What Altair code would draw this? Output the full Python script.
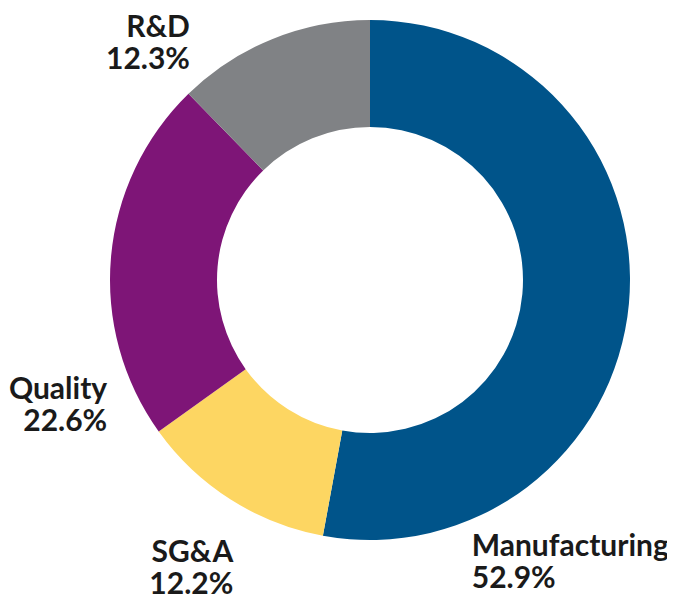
import math
import altair as alt
import pandas as pd

categories = ["Manufacturing", "SG&A", "Quality", "R&D"]
values = [52.9, 12.2, 22.6, 12.3]
colors = ["#00548A", "#FDD662", "#7E1577", "#808285"]

df = pd.DataFrame({"category": categories, "value": values, "idx": list(range(len(categories)))})

theta_scale = alt.Scale(domain=[0, 100], range=[0, 2 * math.pi])

base = (
    alt.Chart(df)
    .transform_window(cum_end="sum(value)", sort=[alt.SortField("idx")])
    .transform_calculate(
        cum_start="datum.cum_end - datum.value",
        mid="datum.cum_end - datum.value / 2",
        label="datum.category + '\\n' + format(datum.value, '.1f') + '%'",
    )
)

arcs = base.mark_arc(outerRadius=260, innerRadius=153).encode(
    theta=alt.Theta("cum_start:Q", scale=theta_scale, stack=None),
    theta2="cum_end:Q",
    color=alt.Color("category:N", scale=alt.Scale(domain=categories, range=colors), legend=None),
)

FONT = "Lato"
label_style = dict(font=FONT, fontSize=30, fontWeight="bold", color="#1a1a1a",
                   lineBreak="\n", lineHeight=32, baseline="middle", radius=300)

def label_layer(cat, align, dx, dy):
    return base.transform_filter(alt.datum.category == cat).mark_text(
        align=align, dx=dx, dy=dy, **label_style
    ).encode(
        theta=alt.Theta("mid:Q", scale=theta_scale, stack=None),
        text="label:N",
    )

labels = [
    label_layer("R&D", "right", -67, 26),
    label_layer("Quality", "right", 36, 136),
    label_layer("SG&A", "right", 24, 20),
    label_layer("Manufacturing", "left", -197, 240),
]

chart = alt.layer(arcs, *labels).properties(
    width=594,
    height=544,
    autosize=alt.AutoSizeParams(type="none"),
    padding={"left": 65, "top": 0, "right": 0, "bottom": 45},
).configure_view(stroke=None)

chart.save("out.html", embed_options={"renderer": "svg", "actions": False})
